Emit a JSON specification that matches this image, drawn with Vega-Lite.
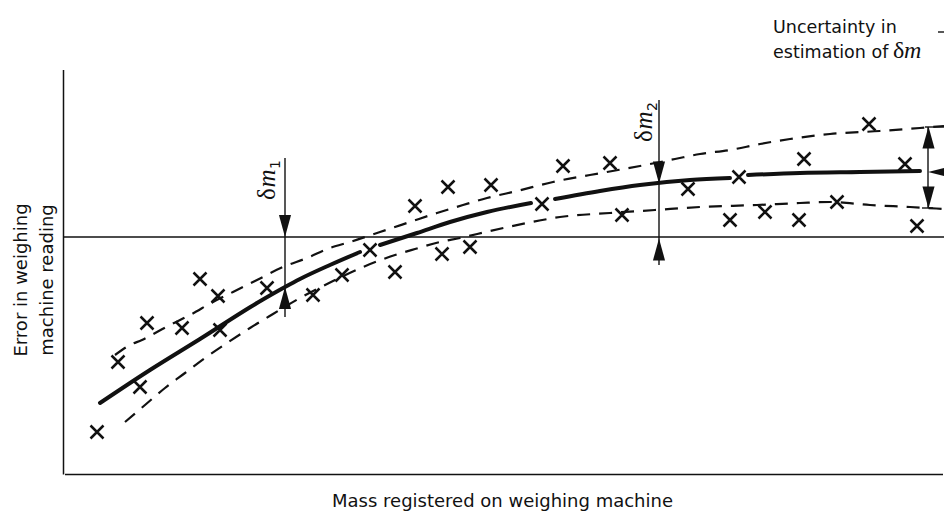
{
  "$schema": "https://vega.github.io/schema/vega-lite/v6.json",
  "width": 944,
  "height": 511,
  "autosize": {"type": "none"},
  "padding": 0,
  "config": {"view": {"stroke": null}, "background": "white"},
  "datasets": {
    "markers": [
      {"mass": 3.3, "err": -19.5}, {"mass": 5.4, "err": -12.5}, {"mass": 7.6, "err": -15.0},
      {"mass": 8.3, "err": -8.6}, {"mass": 11.8, "err": -9.1}, {"mass": 13.6, "err": -4.2},
      {"mass": 15.4, "err": -5.9}, {"mass": 15.6, "err": -9.3}, {"mass": 20.3, "err": -5.1},
      {"mass": 24.9, "err": -5.8}, {"mass": 27.8, "err": -3.8}, {"mass": 30.6, "err": -1.3},
      {"mass": 33.1, "err": -3.5}, {"mass": 35.1, "err": 3.1}, {"mass": 38.4, "err": 5.0},
      {"mass": 37.8, "err": -1.7}, {"mass": 40.6, "err": -1.0}, {"mass": 42.7, "err": 5.2},
      {"mass": 47.8, "err": 3.3}, {"mass": 49.9, "err": 7.1}, {"mass": 54.6, "err": 7.4},
      {"mass": 55.8, "err": 2.2}, {"mass": 62.4, "err": 4.8}, {"mass": 66.6, "err": 1.7},
      {"mass": 67.5, "err": 6.0}, {"mass": 70.1, "err": 2.5}, {"mass": 73.5, "err": 1.7},
      {"mass": 74.0, "err": 7.8}, {"mass": 77.3, "err": 3.5}, {"mass": 80.5, "err": 11.3},
      {"mass": 84.1, "err": 7.3}, {"mass": 85.3, "err": 1.1}
    ],
    "curves": [
      {"curve": "fit", "seg": "A", "mass": 3.6, "err": -16.6},
      {"curve": "fit", "seg": "A", "mass": 8.6, "err": -13.3},
      {"curve": "fit", "seg": "A", "mass": 13.6, "err": -10.2},
      {"curve": "fit", "seg": "A", "mass": 19.3, "err": -6.6},
      {"curve": "fit", "seg": "A", "mass": 22.1, "err": -5.0},
      {"curve": "fit", "seg": "A", "mass": 23.6, "err": -4.2},
      {"curve": "fit", "seg": "A", "mass": 26.6, "err": -2.8},
      {"curve": "fit", "seg": "A", "mass": 29.6, "err": -1.5},
      {"curve": "fit", "seg": "B", "mass": 31.6, "err": -0.8},
      {"curve": "fit", "seg": "B", "mass": 35.3, "err": 0.4},
      {"curve": "fit", "seg": "B", "mass": 38.6, "err": 1.5},
      {"curve": "fit", "seg": "B", "mass": 42.3, "err": 2.5},
      {"curve": "fit", "seg": "B", "mass": 46.7, "err": 3.4},
      {"curve": "fit", "seg": "C", "mass": 49.1, "err": 3.8},
      {"curve": "fit", "seg": "C", "mass": 53.6, "err": 4.6},
      {"curve": "fit", "seg": "C", "mass": 57.6, "err": 5.2},
      {"curve": "fit", "seg": "C", "mass": 62.6, "err": 5.7},
      {"curve": "fit", "seg": "C", "mass": 66.6, "err": 5.9},
      {"curve": "fit", "seg": "D", "mass": 68.4, "err": 6.2},
      {"curve": "fit", "seg": "D", "mass": 73.6, "err": 6.4},
      {"curve": "fit", "seg": "D", "mass": 79.6, "err": 6.5},
      {"curve": "fit", "seg": "D", "mass": 85.6, "err": 6.6},
      {"curve": "upper", "seg": "U", "mass": 5.1, "err": -11.8},
      {"curve": "upper", "seg": "U", "mass": 6.6, "err": -10.8},
      {"curve": "upper", "seg": "U", "mass": 7.8, "err": -10.3},
      {"curve": "upper", "seg": "U", "mass": 9.3, "err": -9.5},
      {"curve": "upper", "seg": "U", "mass": 10.6, "err": -8.8},
      {"curve": "upper", "seg": "U", "mass": 12.6, "err": -7.8},
      {"curve": "upper", "seg": "U", "mass": 14.9, "err": -6.5},
      {"curve": "upper", "seg": "U", "mass": 16.9, "err": -5.5},
      {"curve": "upper", "seg": "U", "mass": 19.3, "err": -4.3},
      {"curve": "upper", "seg": "U", "mass": 21.9, "err": -3.0},
      {"curve": "upper", "seg": "U", "mass": 24.3, "err": -2.1},
      {"curve": "upper", "seg": "U", "mass": 26.6, "err": -1.1},
      {"curve": "upper", "seg": "U", "mass": 28.6, "err": -0.5},
      {"curve": "upper", "seg": "U", "mass": 31.6, "err": 0.5},
      {"curve": "upper", "seg": "U", "mass": 34.6, "err": 1.5},
      {"curve": "upper", "seg": "U", "mass": 37.3, "err": 2.4},
      {"curve": "upper", "seg": "U", "mass": 39.9, "err": 3.2},
      {"curve": "upper", "seg": "U", "mass": 42.3, "err": 3.9},
      {"curve": "upper", "seg": "U", "mass": 45.3, "err": 4.6},
      {"curve": "upper", "seg": "U", "mass": 48.9, "err": 5.5},
      {"curve": "upper", "seg": "U", "mass": 54.3, "err": 6.5},
      {"curve": "upper", "seg": "U", "mass": 57.6, "err": 7.1},
      {"curve": "upper", "seg": "U", "mass": 61.1, "err": 7.8},
      {"curve": "upper", "seg": "U", "mass": 63.6, "err": 8.3},
      {"curve": "upper", "seg": "U", "mass": 66.6, "err": 8.7},
      {"curve": "upper", "seg": "U", "mass": 69.6, "err": 9.3},
      {"curve": "upper", "seg": "U", "mass": 72.6, "err": 9.8},
      {"curve": "upper", "seg": "U", "mass": 76.6, "err": 10.3},
      {"curve": "upper", "seg": "U", "mass": 81.6, "err": 10.6},
      {"curve": "upper", "seg": "U", "mass": 85.6, "err": 10.9},
      {"curve": "upper", "seg": "U", "mass": 88.0, "err": 11.1},
      {"curve": "lower", "seg": "L", "mass": 6.1, "err": -18.5},
      {"curve": "lower", "seg": "L", "mass": 8.1, "err": -16.8},
      {"curve": "lower", "seg": "L", "mass": 10.1, "err": -15.1},
      {"curve": "lower", "seg": "L", "mass": 12.1, "err": -13.6},
      {"curve": "lower", "seg": "L", "mass": 14.1, "err": -12.1},
      {"curve": "lower", "seg": "L", "mass": 16.3, "err": -10.6},
      {"curve": "lower", "seg": "L", "mass": 18.6, "err": -9.1},
      {"curve": "lower", "seg": "L", "mass": 20.9, "err": -7.7},
      {"curve": "lower", "seg": "L", "mass": 23.6, "err": -6.1},
      {"curve": "lower", "seg": "L", "mass": 26.9, "err": -4.4},
      {"curve": "lower", "seg": "L", "mass": 29.9, "err": -3.0},
      {"curve": "lower", "seg": "L", "mass": 33.1, "err": -1.8},
      {"curve": "lower", "seg": "L", "mass": 35.1, "err": -1.2},
      {"curve": "lower", "seg": "L", "mass": 37.6, "err": -0.5},
      {"curve": "lower", "seg": "L", "mass": 39.6, "err": -0.1},
      {"curve": "lower", "seg": "L", "mass": 42.6, "err": 0.6},
      {"curve": "lower", "seg": "L", "mass": 46.3, "err": 1.4},
      {"curve": "lower", "seg": "L", "mass": 49.6, "err": 2.0},
      {"curve": "lower", "seg": "L", "mass": 54.6, "err": 2.4},
      {"curve": "lower", "seg": "L", "mass": 59.1, "err": 2.7},
      {"curve": "lower", "seg": "L", "mass": 63.6, "err": 3.0},
      {"curve": "lower", "seg": "L", "mass": 69.3, "err": 3.2},
      {"curve": "lower", "seg": "L", "mass": 73.6, "err": 3.4},
      {"curve": "lower", "seg": "L", "mass": 76.6, "err": 3.5},
      {"curve": "lower", "seg": "L", "mass": 80.6, "err": 3.2},
      {"curve": "lower", "seg": "L", "mass": 84.6, "err": 3.0},
      {"curve": "lower", "seg": "L", "mass": 88.0, "err": 2.8}
    ],
    "frame": [
      {"mass": -0.05, "err": 16.7, "mass2": -0.05, "err2": -23.75},
      {"mass": 0.1, "err": -23.75, "mass2": 87.9, "err2": -23.75},
      {"mass": -0.1, "err": 0, "mass2": 88.0, "err2": 0}
    ],
    "annot": [
      {"mass": 22.1, "err": 7.9, "mass2": 22.1, "err2": -8.0},
      {"mass": 59.5, "err": 13.7, "mass2": 59.5, "err2": -2.8},
      {"mass": 86.4, "err": 11.0, "mass2": 86.4, "err2": 2.9},
      {"mass": 86.1, "err": 11.0, "mass2": 88.0, "err2": 11.0},
      {"mass": 85.8, "err": 2.9, "mass2": 86.9, "err2": 2.9},
      {"mass": 87.4, "err": 20.5, "mass2": 88.0, "err2": 20.5}
    ],
    "arrows": [
      {"mass": 22.1, "err": 1.1, "dir": "down"},
      {"mass": 22.1, "err": -6.1, "dir": "up"},
      {"mass": 59.5, "err": 6.45, "dir": "down"},
      {"mass": 59.5, "err": -1.25, "dir": "up"},
      {"mass": 86.45, "err": 9.95, "dir": "up"},
      {"mass": 86.45, "err": 3.95, "dir": "down"},
      {"mass": 87.5, "err": 6.5, "dir": "left"}
    ]
  },
  "encoding": {
    "x": {"field": "mass", "type": "quantitative", "scale": {"domain": [-6.4, 88.0], "nice": false, "zero": false}, "axis": null},
    "y": {"field": "err", "type": "quantitative", "scale": {"domain": [-27.4, 23.7], "nice": false, "zero": false}, "axis": null}
  },
  "layer": [
    {
      "data": {"name": "frame"},
      "mark": {"type": "rule", "color": "#111", "strokeWidth": 1.5},
      "encoding": {"x2": {"field": "mass2"}, "y2": {"field": "err2"}}
    },
    {
      "data": {"name": "annot"},
      "mark": {"type": "rule", "color": "#111", "strokeWidth": 1.4},
      "encoding": {"x2": {"field": "mass2"}, "y2": {"field": "err2"}}
    },
    {
      "data": {"name": "curves"},
      "transform": [{"filter": "datum.curve === 'fit'"}],
      "mark": {"type": "line", "color": "#111", "strokeWidth": 4, "strokeCap": "round", "interpolate": "monotone"},
      "encoding": {"detail": {"field": "seg"}}
    },
    {
      "data": {"name": "curves"},
      "transform": [{"filter": "datum.curve !== 'fit'"}],
      "mark": {"type": "line", "color": "#111", "strokeWidth": 2.2, "strokeDash": [13, 9], "interpolate": "monotone"},
      "encoding": {"detail": {"field": "curve"}}
    },
    {
      "data": {"name": "markers"},
      "mark": {"type": "point", "shape": "M-1,-1L1,1M-1,1L1,-1", "size": 169, "filled": false, "color": "#111", "strokeWidth": 2.5, "opacity": 1}
    },
    {
      "data": {"name": "arrows"},
      "mark": {"type": "point", "filled": true, "color": "#111", "opacity": 1, "size": 484, "strokeWidth": 0},
      "encoding": {
        "shape": {"field": "dir", "type": "nominal", "legend": null,
          "scale": {"domain": ["down", "up", "left"], "range": ["M-0.55,-1L0.55,-1L0,1Z", "M-0.55,1L0.55,1L0,-1Z", "M-1,0L1,-0.5L1,0.5Z"]}}
      }
    },
    {
      "data": {"values": [{"mass": 43.85, "err": -27.0, "t": "Mass registered on weighing machine"}]},
      "mark": {"type": "text", "align": "center", "baseline": "alphabetic", "font": "DejaVu Sans", "fontSize": 18, "color": "#111"},
      "encoding": {"text": {"field": "t"}}
    },
    {
      "data": {"values": [{"mass": 70.9, "err": 20.4, "t": "Uncertainty in"}, {"mass": 70.9, "err": 17.9, "t": "estimation of"}]},
      "mark": {"type": "text", "align": "left", "baseline": "alphabetic", "font": "DejaVu Sans", "fontSize": 17.5, "color": "#111"},
      "encoding": {"text": {"field": "t"}}
    },
    {
      "data": {"values": [{"mass": 82.9, "err": 17.9, "t": "δ"}]},
      "mark": {"type": "text", "align": "left", "baseline": "alphabetic", "font": "Liberation Serif", "fontSize": 24, "color": "#111"},
      "encoding": {"text": {"field": "t"}}
    },
    {
      "data": {"values": [{"mass": 84.0, "err": 17.9, "t": "m"}]},
      "mark": {"type": "text", "align": "left", "baseline": "alphabetic", "font": "Liberation Serif", "fontStyle": "italic", "fontSize": 24, "color": "#111"},
      "encoding": {"text": {"field": "t"}}
    },
    {
      "data": {"values": [{"mass": -3.7, "err": -4.3, "t": "Error in weighing\nmachine reading"}]},
      "mark": {"type": "text", "align": "center", "baseline": "alphabetic", "angle": 270, "lineBreak": "\n", "lineHeight": 26, "font": "DejaVu Sans", "fontSize": 18, "color": "#111"},
      "encoding": {"text": {"field": "t"}}
    },
    {
      "data": {"values": [{"mass": 21.1, "err": 3.7, "t": "δ"}, {"mass": 58.8, "err": 9.5, "t": "δ"}]},
      "mark": {"type": "text", "align": "left", "baseline": "alphabetic", "angle": 270, "font": "Liberation Serif", "fontSize": 25, "color": "#111"},
      "encoding": {"text": {"field": "t"}}
    },
    {
      "data": {"values": [{"mass": 21.1, "err": 4.95, "t": "m"}, {"mass": 58.8, "err": 10.75, "t": "m"}]},
      "mark": {"type": "text", "align": "left", "baseline": "alphabetic", "angle": 270, "font": "Liberation Serif", "fontStyle": "italic", "fontSize": 25, "color": "#111"},
      "encoding": {"text": {"field": "t"}}
    },
    {
      "data": {"values": [{"mass": 21.6, "err": 6.8, "t": "1"}, {"mass": 59.3, "err": 12.6, "t": "2"}]},
      "mark": {"type": "text", "align": "left", "baseline": "alphabetic", "angle": 270, "font": "DejaVu Sans", "fontSize": 14, "color": "#111"},
      "encoding": {"text": {"field": "t"}}
    }
  ]
}
